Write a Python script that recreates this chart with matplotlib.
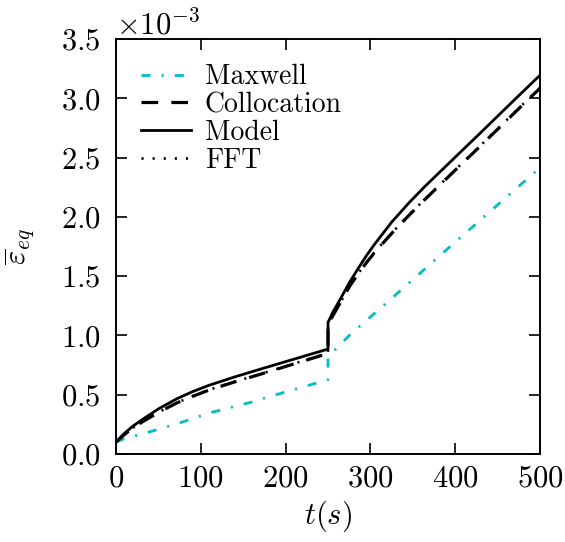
import numpy as np
import matplotlib
matplotlib.use("Agg")
import matplotlib.pyplot as plt

plt.rcParams['font.family'] = 'serif'
plt.rcParams['font.serif'] = ['cmr10']
plt.rcParams['mathtext.fontset'] = 'cm'
plt.rcParams['axes.unicode_minus'] = False
plt.rcParams['axes.formatter.use_mathtext'] = True
plt.rcParams['lines.scale_dashes'] = False

SCALE = 1e-3  # values below are in units of 1e-3

# Model / Collocation / FFT share the same time samples (jump at t=250)
t_num = [0, 10, 20, 32, 50, 71.5, 90, 110, 140, 170, 210, 250,
         250, 256, 264, 276, 286, 296, 305, 325, 345, 364, 385, 406, 430, 453, 476, 500]
model = [0.10, 0.175, 0.235, 0.295, 0.38, 0.465, 0.525, 0.58, 0.65, 0.715, 0.80, 0.885,
         1.11, 1.20, 1.30, 1.455, 1.57, 1.68, 1.77, 1.955, 2.115, 2.255, 2.40, 2.545,
         2.71, 2.87, 3.03, 3.195]
colloc = [0.10, 0.165, 0.22, 0.275, 0.35, 0.43, 0.485, 0.54, 0.608, 0.672, 0.76, 0.848,
          1.09, 1.17, 1.27, 1.42, 1.525, 1.62, 1.70, 1.86, 2.01, 2.145, 2.29, 2.435,
          2.60, 2.76, 2.92, 3.085]
fft = [0.10, 0.166, 0.221, 0.276, 0.351, 0.431, 0.487, 0.542, 0.61, 0.674, 0.762, 0.85,
       1.09, 1.17, 1.272, 1.423, 1.528, 1.622, 1.703, 1.863, 2.013, 2.148, 2.293, 2.438,
       2.603, 2.763, 2.923, 3.088]

t_max = [0, 10, 28, 71.5, 110, 160, 182, 250, 250, 262, 276, 331, 398, 453, 488, 500]
maxwell = [0.10, 0.13, 0.163, 0.253, 0.346, 0.438, 0.486, 0.626,
           0.823, 0.905, 1.006, 1.35, 1.775, 2.12, 2.34, 2.415]

fig = plt.figure(figsize=(5.65, 5.42), dpi=100)
ax = fig.add_axes([0.2053, 0.1624, 0.7505, 0.7656])

ax.plot(t_max, np.array(maxwell) * SCALE, color='c', lw=2.0,
        linestyle=(0, (6.5, 8, 1.5, 8)), label='Maxwell')
ax.plot(t_num, np.array(colloc) * SCALE, color='k', lw=2.3,
        linestyle=(0, (12, 9.5)), label='Collocation')
ax.plot(t_num, np.array(model) * SCALE, color='k', lw=2.0, label='Model')
ax.plot(t_num, np.array(fft) * SCALE, color='k', lw=1.9,
        linestyle=(0, (1.5, 6.5)), label='FFT')

ax.set_xlim(0, 500)
ax.set_ylim(0, 3.5e-3)
ax.set_xticks([0, 100, 200, 300, 400, 500])
ax.set_yticks(np.arange(0, 3.51, 0.5) * SCALE)
ax.ticklabel_format(axis='y', style='sci', scilimits=(0, 0), useMathText=True)
ax.tick_params(direction='in', length=8, width=1.2, labelsize=22,
               top=True, right=True, pad=8)
ax.tick_params(axis='y', pad=11)
ax.yaxis.get_offset_text().set_fontsize(22)
for s in ax.spines.values():
    s.set_linewidth(1.4)

ax.set_xlabel(r'$t(s)$', fontsize=22, labelpad=4)
ax.set_ylabel(r'$\overline{\varepsilon}_{eq}$', fontsize=22, labelpad=17)

ax.legend(loc='upper left', frameon=False, fontsize=20, handlelength=1.8,
          handletextpad=0.5, labelspacing=0.05)

plt.savefig("out.png", dpi=100)
